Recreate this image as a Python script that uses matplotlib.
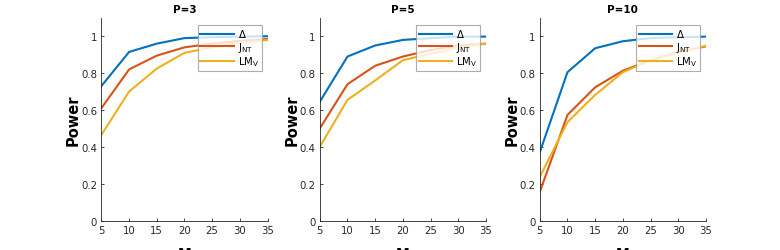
import matplotlib
matplotlib.use("Agg")
import matplotlib.pyplot as plt
import numpy as np

# sample sizes and power for each test
M = [5, 10, 15, 20, 25, 30, 35]
titles = ["P=3", "P=5", "P=10"]

delta_p3 = [0.73, 0.915, 0.96, 0.99, 0.995, 0.998, 1.0]
jnt_p3 = [0.61, 0.82, 0.895, 0.94, 0.96, 0.975, 0.985]
lmv_p3 = [0.465, 0.70, 0.825, 0.91, 0.94, 0.965, 0.98]

delta_p5 = [0.645, 0.89, 0.95, 0.98, 0.99, 0.998, 0.998]
jnt_p5 = [0.50, 0.74, 0.84, 0.89, 0.925, 0.95, 0.96]
lmv_p5 = [0.40, 0.655, 0.76, 0.87, 0.905, 0.94, 0.96]

delta_p10 = [0.37, 0.805, 0.935, 0.973, 0.99, 0.995, 0.998]
jnt_p10 = [0.155, 0.573, 0.723, 0.813, 0.87, 0.915, 0.945]
lmv_p10 = [0.237, 0.534, 0.682, 0.805, 0.87, 0.91, 0.948]

series = [
    (delta_p3, jnt_p3, lmv_p3),
    (delta_p5, jnt_p5, lmv_p5),
    (delta_p10, jnt_p10, lmv_p10),
]

labels = [r"$\Delta$", r"J$_{\mathrm{NT}}$", r"LM$_{\mathrm{V}}$"]
colors = ["#0072BD", "#D95319", "#EDB120"]

fig = plt.figure(figsize=(7.8, 2.51), dpi=100)
lefts = [0.130, 0.410, 0.692]
for k in range(3):
    ax = fig.add_axes([lefts[k], 0.117, 0.213, 0.808])
    for vals, lab, col in zip(series[k], labels, colors):
        ax.plot(M, vals, color=col, lw=1.5, label=lab)
    ax.set_xlim(5, 35)
    ax.set_ylim(0, 1.1)
    ax.set_xticks(np.arange(5, 36, 5))
    ax.set_yticks([0, 0.2, 0.4, 0.6, 0.8, 1])
    ax.set_yticklabels(["0", "0.2", "0.4", "0.6", "0.8", "1"])
    for s in ["top", "right"]:
        ax.spines[s].set_visible(False)
    for s in ["left", "bottom"]:
        ax.spines[s].set_color("#262626")
        ax.spines[s].set_linewidth(0.6)
    ax.tick_params(direction="in", length=2.5, width=0.6, labelsize=7.3,
                   colors="#262626", pad=3)
    ax.set_title(titles[k], fontsize=7.5, fontweight="bold", pad=4)
    ax.set_ylabel("Power", fontsize=10.5, fontweight="bold", labelpad=0)
    ax.set_xlabel("M", fontsize=10, fontweight="bold", labelpad=8)
    leg = ax.legend(loc="upper right", bbox_to_anchor=(0.965, 0.965),
                    fontsize=7.3, frameon=True, fancybox=False,
                    handlelength=3.3, handletextpad=0.4, borderpad=0.25,
                    labelspacing=0.05, borderaxespad=0)
    leg.get_frame().set_edgecolor("#999999")
    leg.get_frame().set_linewidth(0.8)

fig.savefig("out.png", dpi=100)
